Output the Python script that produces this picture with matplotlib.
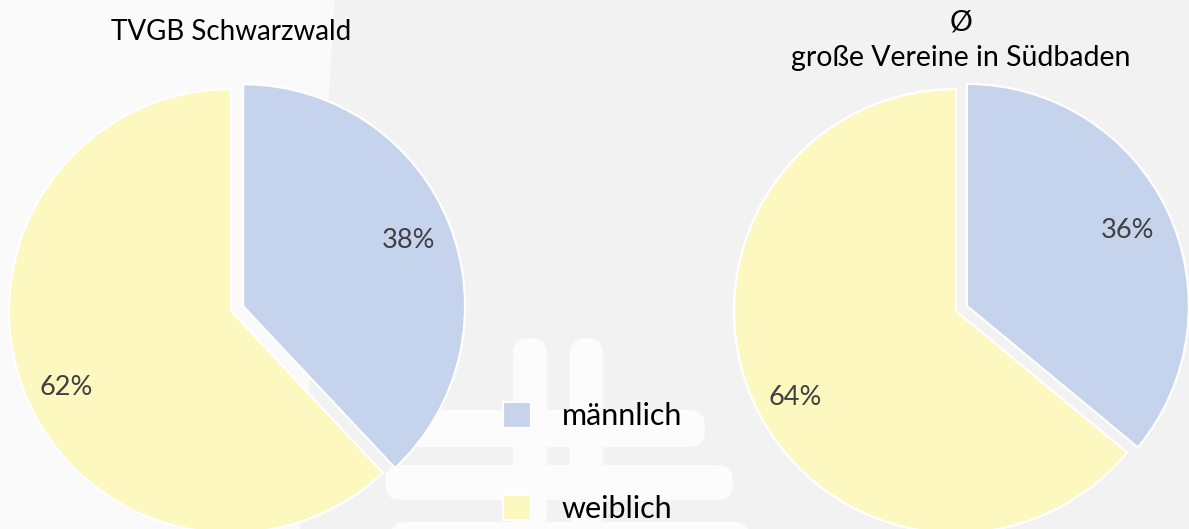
import matplotlib.pyplot as plt
from matplotlib.patches import Polygon, FancyBboxPatch

plt.rcParams['font.family'] = ['Lato', 'DejaVu Sans']

W, H = 1189, 529

# Daten
labels = ["männlich", "weiblich"]
tvgb = [38, 62]
suedbaden = [36, 64]
colors = ["#c6d3ec", "#fdf7c0"]
title_left = "TVGB Schwarzwald"
title_right = "Ø\ngroße Vereine in Südbaden"

fig = plt.figure(figsize=(W / 100, H / 100), dpi=100)
fig.patch.set_facecolor("#f2f2f2")
ax = fig.add_axes([0, 0, 1, 1])
ax.set_facecolor("#f2f2f2")

# Hintergrund-Wasserzeichen (grob)
ax.add_patch(Polygon([(0, H), (335, H), (300, 0), (0, 0)], closed=True,
                     facecolor="#fafafa", edgecolor="none", zorder=0))
for x0, y0, w, h in [(513, 0, 34, 191), (570, 0, 33, 191),
                     (380, 82, 325, 37), (385, 29, 348, 35), (390, -20, 360, 27)]:
    ax.add_patch(FancyBboxPatch((x0, y0), w, h, boxstyle="round,pad=0,rounding_size=16",
                                facecolor="#fcfcfc", edgecolor="none", zorder=0))

def draw_pie(values, center, explode_b):
    # explode in Pixeln (Datenkoordinaten)
    wedges, texts, autotexts = ax.pie(
        values, colors=colors, startangle=90, counterclock=False,
        center=center, radius=222, explode=[explode_b, 0],
        autopct="%d%%", pctdistance=0.8, frame=True,
        wedgeprops=dict(edgecolor="white", linewidth=1.6),
        textprops=dict(fontsize=19.5, color="#404040"))
    for w in wedges:
        w.set_clip_on(False)
    # Excel setzt das Label der grossen Scheibe etwas tiefer
    x, y = autotexts[1].get_position()
    autotexts[1].set_position((x, y - 11))
    return wedges

wl = draw_pie(tvgb, (231, H - 311), 13)
draw_pie(suedbaden, (956, H - 311), 12)

ax.text(231, H - 32, title_left, ha="center", va="center", fontsize=20, color="black")
ax.text(961, H - 40, title_right, ha="center", va="center", fontsize=20.5, color="black",
        linespacing=1.45)

ax.legend(wl, labels, loc="upper left", bbox_to_anchor=(503, H - 402),
          bbox_transform=ax.transData, frameon=False, fontsize=22,
          handlelength=0.92, handleheight=0.92, handletextpad=1.0,
          labelspacing=2.1, borderpad=0, borderaxespad=0)

ax.set_xlim(0, W)
ax.set_ylim(0, H)
ax.set_aspect("auto")
ax.set_axis_off()

fig.savefig("out.png", dpi=100, facecolor=fig.get_facecolor())
